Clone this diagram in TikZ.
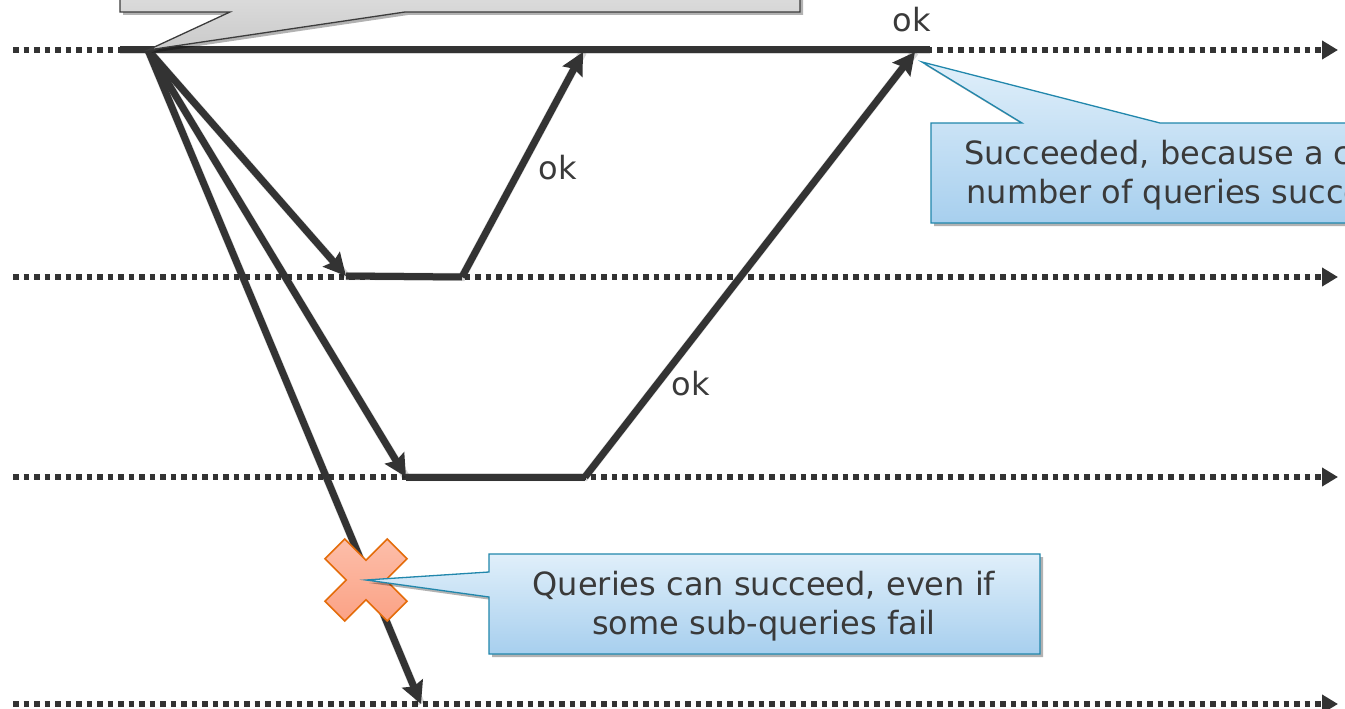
\documentclass[tikz,border=0pt]{standalone}
\usepackage{fontspec}
\setmainfont{DejaVu Sans}
\usetikzlibrary{arrows.meta,shadows}
\definecolor{ink}{HTML}{333333}
\definecolor{txt}{HTML}{3A3A3A}
\definecolor{bluetop}{HTML}{E0EFFA}
\definecolor{bluebot}{HTML}{A7CFEE}
\definecolor{blueedge}{HTML}{2187AC}
\definecolor{graytop}{HTML}{E4E4E4}
\definecolor{graybot}{HTML}{CACACA}
\definecolor{grayedge}{HTML}{3C3C3C}
\definecolor{crossfill}{HTML}{FBA285}
\definecolor{crossedge}{HTML}{E46C0A}
\tikzset{
  dotline/.style={draw=ink, line width=5.5pt, dash pattern=on 5.5pt off 5pt, -{Triangle[length=16pt,width=18pt]}},
  thick line/.style={draw=ink, line width=7pt},
  thick arrow/.style={thick line, -{Stealth[length=22pt,width=22pt,inset=3pt]}},
  lshadow/.style={draw=black, opacity=0.16, line width=8pt},
  callblue/.style={draw=blueedge, line width=1.3pt, top color=bluetop, bottom color=bluebot,
    drop shadow={shadow xshift=3pt, shadow yshift=-3pt, opacity=0.3, fill=black}},
  callgray/.style={draw=grayedge, line width=1.3pt, top color=graytop, bottom color=graybot,
    drop shadow={shadow xshift=3pt, shadow yshift=-3pt, opacity=0.3, fill=black}},
  label/.style={text=txt, font=\fontsize{32}{39}\selectfont, inner sep=0pt, align=center},
}
\begin{document}
\begin{tikzpicture}[x=1pt, y=-1pt]
\clip (0,0) rectangle (1345,709);
\fill[white] (0,0) rectangle (1345,709);

% coordinates
\coordinate (d1s) at (13,50);  \coordinate (d1e) at (1338,50);
\coordinate (d2s) at (13,277); \coordinate (d2e) at (1338,277);
\coordinate (d3s) at (13,477); \coordinate (d3e) at (1338,477);
\coordinate (d4s) at (13,704); \coordinate (d4e) at (1338,704);
\coordinate (t0) at (120,50);  \coordinate (src) at (148,50);
\coordinate (t1) at (930,50);
\coordinate (a1) at (346,276); \coordinate (b1) at (462,277);
\coordinate (c1) at (583,52);
\coordinate (a2) at (406,477); \coordinate (b2) at (585,477);
\coordinate (c2) at (915,52);
\coordinate (a3) at (421,704);
\coordinate (xc) at (366,580);
\coordinate (ptR) at (922,62);

% dotted timelines
\draw[dotline] (d1s) -- (d1e);
\draw[dotline] (d2s) -- (d2e);
\draw[dotline] (d3s) -- (d3e);
\draw[dotline] (d4s) -- (d4e);

% shadows of the thick lines
\begin{scope}[shift={(2,4)}]
\draw[lshadow] (t0) -- (t1);
\draw[lshadow] (src) -- (a1);
\draw[lshadow] (src) -- (a2);
\draw[lshadow] (src) -- (a3);
\draw[lshadow] (a1) -- (b1) -- (c1);
\draw[lshadow] (a2) -- (b2) -- (c2);
\end{scope}

% thick lines
\draw[thick line] (t0) -- (t1);
\draw[thick arrow] (src) -- (a1);
\draw[thick arrow] (src) -- (a2);
\draw[thick arrow] (src) -- (a3);
\draw[thick line] (a1) -- (b1);
\draw[thick arrow] (b1) -- (c1);
\draw[thick line] (a2) -- (b2);
\draw[thick arrow] (b2) -- (c2);

% labels
\node[label] (ok1) at (558,168) {ok};
\node[label] (ok2) at (691,384) {ok};
\node[label] (ok3) at (912,20) {ok};

% top-left callout (mostly outside the picture)
\path[callgray] (120,-30) -- (800,-30) -- (800,12) -- (405,12) -- (src) -- (230,12) -- (120,12) -- cycle;

% right callout
\path[callblue] (931,123) -- (1022,123) -- (ptR) -- (1160,123) -- (1480,123) -- (1480,223) -- (931,223) -- cycle;
\node[label] (noteR) at (1205,175) {Succeeded, because a certain\\number of queries succeeded};

% failure cross
\begin{scope}[shift={(xc)}, rotate=45]
\path[draw=crossedge, line width=1.6pt, top color=crossfill!70!white, bottom color=crossfill]
  (-14,-44) -- (14,-44) -- (14,-14) -- (44,-14) -- (44,14) -- (14,14) -- (14,44)
  -- (-14,44) -- (-14,14) -- (-44,14) -- (-44,-14) -- (-14,-14) -- cycle;
\end{scope}

% bottom callout
\path[callblue] (489,554) -- (1040,554) -- (1040,654) -- (489,654) -- (489,597) -- (xc) -- (489,572) -- cycle;
\node[label] (noteB) at (764,606) {Queries can succeed, even if\\some sub-queries fail};
\end{tikzpicture}
\end{document}
